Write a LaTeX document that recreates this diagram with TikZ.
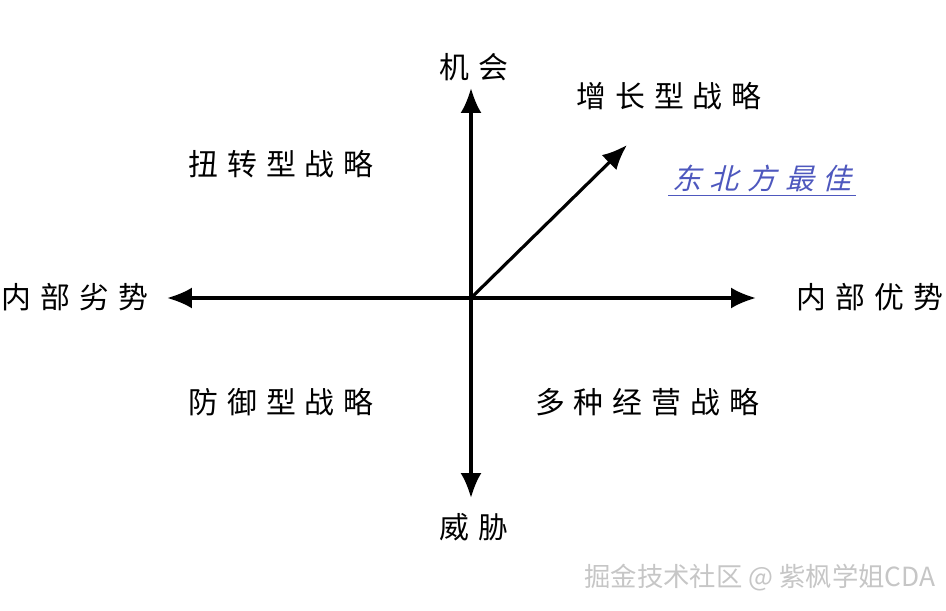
\documentclass[tikz,border=0pt]{standalone}
\usepackage{fontspec}
\usepackage{xcolor}
\usetikzlibrary{arrows.meta}
\newfontfamily\cjk{Noto Sans CJK SC}[LetterSpace=30]
\newfontfamily\cjkslant{Noto Sans CJK SC}[LetterSpace=30, FakeSlant=0.25]
\newfontfamily\cjkmark{Noto Sans CJK SC}
\definecolor{bestblue}{RGB}{78,88,190}

\begin{document}
\begin{tikzpicture}[
  x=0.02cm, y=-0.02cm,
  lbl/.style={font=\cjk\fontsize{17}{19}\selectfont, inner sep=1pt},
  best/.style={font=\cjkslant\fontsize{16.5}{18}\selectfont, text=bestblue, inner sep=2pt},
  arr/.style={-{Latex[length=5mm, width=4.2mm]}, line width=1.8pt}
]
\useasboundingbox (0,0) rectangle (946,611);
% axes
\coordinate (o) at (471,298);
\coordinate (top) at (471,88);
\coordinate (bot) at (471,498);
\coordinate (lft) at (167,298);
\coordinate (rgt) at (756,298);
\coordinate (ne) at (627,145);
\draw[arr] (o) -- (top);
\draw[arr] (o) -- (bot);
\draw[arr] (o) -- (lft);
\draw[arr] (o) -- (rgt);
\draw[arr] (o) -- (ne);
% labels
\node[lbl] (chance) at (474,67) {机会};
\node[lbl] (threat) at (474,527) {威胁};
\node[lbl] (weak) at (75,297) {内部劣势};
\node[lbl] (strong) at (870,297) {内部优势};
\node[lbl] (grow) at (669,96) {增长型战略};
\node[lbl] (turn) at (281,164) {扭转型战略};
\node[lbl] (defend) at (281,402) {防御型战略};
\node[lbl] (multi) at (647,402) {多种经营战略};
\node[best] (bestne) at (762,178) {东北方最佳};
\draw[bestblue, line width=0.8pt] (bestne.south west) -- (bestne.south east);
% watermark
\node[font=\cjkmark\fontsize{15}{17}\selectfont, text=gray!45] (mark) at (760,578) {掘金技术社区 @ 紫枫学姐CDA};
\end{tikzpicture}
\end{document}
